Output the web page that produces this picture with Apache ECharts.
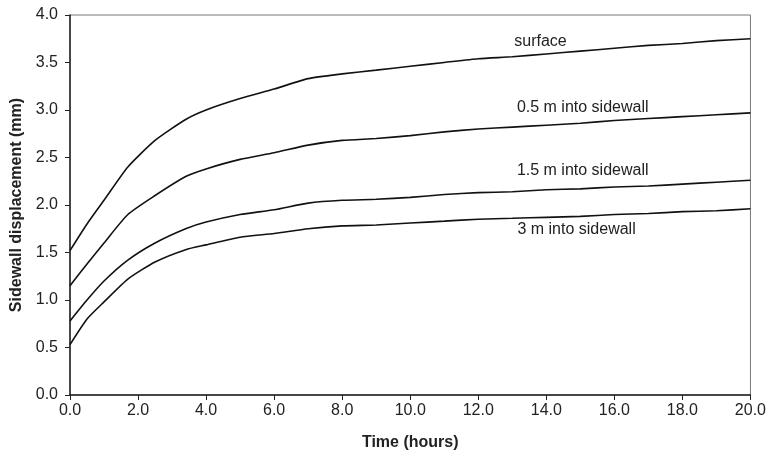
<!DOCTYPE html>
<html><head><meta charset="utf-8">
<script src="https://cdn.jsdelivr.net/npm/echarts@6/dist/echarts.min.js"></script>
<style>html,body{margin:0;padding:0;background:#fff}#c{width:769px;height:459px}</style>
</head><body><div id="c"></div>
<script>
const times = [0, 0.5, 1, 1.7, 2.5, 3.4, 4, 5, 6, 7, 8, 9, 10, 11, 12, 13, 14, 15, 16, 17, 18, 19, 20];
const surface = [1.52, 1.8, 2.05, 2.4, 2.68, 2.9, 3.0, 3.12, 3.22, 3.33, 3.38, 3.42, 3.46, 3.5, 3.54, 3.56, 3.59, 3.62, 3.65, 3.68, 3.70, 3.73, 3.75];
const m05 = [1.15, 1.38, 1.6, 1.9, 2.1, 2.3, 2.38, 2.48, 2.55, 2.63, 2.68, 2.7, 2.73, 2.77, 2.8, 2.82, 2.84, 2.86, 2.89, 2.91, 2.93, 2.95, 2.97];
const m15 = [0.78, 1.0, 1.2, 1.42, 1.6, 1.75, 1.82, 1.9, 1.95, 2.02, 2.05, 2.06, 2.08, 2.11, 2.13, 2.14, 2.16, 2.17, 2.19, 2.2, 2.22, 2.24, 2.26];
const m3 = [0.53, 0.8, 0.98, 1.22, 1.4, 1.53, 1.58, 1.66, 1.7, 1.75, 1.78, 1.79, 1.81, 1.83, 1.85, 1.86, 1.87, 1.88, 1.9, 1.91, 1.93, 1.94, 1.96];
const seriesNames = ['surface', '0.5 m into sidewall', '1.5 m into sidewall', '3 m into sidewall'];
const labelPos = [[13.83, 3.72], [15.07, 3.03], [15.07, 2.36], [14.89, 1.74]];

const chart = echarts.init(document.getElementById('c'));
const all = [surface, m05, m15, m3];
const font = 'Liberation Sans, Arial, sans-serif';
chart.setOption({
  animation: false,
  grid: {left: 70, right: 18, top: 15, bottom: 64, show: true, borderColor: '#777', borderWidth: 1},
  xAxis: {
    type: 'value', min: 0, max: 20, interval: 2,
    name: 'Time (hours)', nameLocation: 'middle', nameGap: 40,
    nameTextStyle: {fontFamily: font, fontWeight: 'bold', fontSize: 16, color: '#222'},
    axisLine: {lineStyle: {color: '#222', width: 1.5}},
    axisTick: {inside: false, length: 5, lineStyle: {color: '#222'}},
    axisLabel: {fontFamily: font, fontSize: 16, color: '#222', margin: 8, formatter: v => v.toFixed(1)},
    splitLine: {show: false}
  },
  yAxis: {
    type: 'value', min: 0, max: 4, interval: 0.5,
    name: 'Sidewall displacement (mm)', nameLocation: 'middle', nameGap: 42,
    nameTextStyle: {fontFamily: font, fontWeight: 'bold', fontSize: 16, color: '#222'},
    axisLine: {show: true, lineStyle: {color: '#222', width: 1.5}},
    axisTick: {show: true, inside: false, length: 5, lineStyle: {color: '#222'}},
    axisLabel: {fontFamily: font, fontSize: 16, color: '#222', margin: 12, formatter: v => v.toFixed(1)},
    splitLine: {show: false}
  },
  series: all.map((arr, i) => ({
    name: seriesNames[i], type: 'line', smooth: 0.2, showSymbol: false,
    lineStyle: {color: '#111', width: 1.6},
    data: times.map((t, k) => [t, arr[k]]),
    markPoint: {
      symbol: 'circle', symbolSize: 1, itemStyle: {color: 'rgba(0,0,0,0)'},
      data: [{coord: labelPos[i], label: {show: true, position: 'inside', formatter: seriesNames[i], fontFamily: font, fontSize: 16, color: '#222'}}]
    }
  }))
});
</script></body></html>
